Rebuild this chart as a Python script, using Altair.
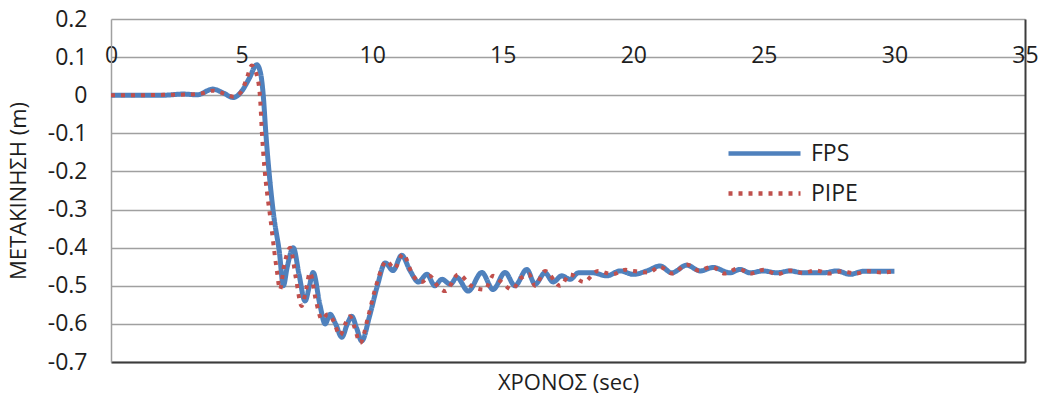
import altair as alt
import pandas as pd

# Displacement time histories (sec, m)
t_fps = [0, 1, 2, 2.76, 3.3, 3.9, 4.3, 4.68, 5.0, 5.3, 5.58, 5.72, 5.83, 5.93, 6.22,
         6.45, 6.6, 6.75, 6.98, 7.2, 7.43, 7.6, 7.74, 8.0, 8.2, 8.39, 8.6, 8.84, 9.05,
         9.22, 9.4, 9.6, 9.9, 10.2, 10.5, 10.8, 11.13, 11.45, 11.77, 12.1, 12.4, 12.67,
         13.0, 13.24, 13.68, 14.2, 14.63, 15.09, 15.47, 15.92, 16.24, 16.62, 16.93, 17.26,
         17.58, 17.9, 18.46, 18.98, 19.5, 20.0, 20.52, 21.03, 21.47, 22.05, 22.56, 23.06,
         23.7, 24.09, 24.47, 24.97, 25.5, 26.0, 26.5, 27.27, 27.8, 28.3, 28.8, 29.33, 30.0]
v_fps = [0, 0, 0, 0.003, 0.001, 0.016, 0.006, -0.006, 0.01, 0.045, 0.08, 0.06, 0.0, -0.1,
         -0.31, -0.413, -0.50, -0.45, -0.40, -0.47, -0.54, -0.50, -0.465, -0.55, -0.60,
         -0.575, -0.60, -0.635, -0.60, -0.58, -0.61, -0.645, -0.58, -0.50, -0.44, -0.46,
         -0.42, -0.46, -0.49, -0.47, -0.50, -0.483, -0.496, -0.478, -0.514, -0.465, -0.51,
         -0.465, -0.50, -0.457, -0.496, -0.466, -0.49, -0.474, -0.483, -0.466, -0.466,
         -0.474, -0.461, -0.47, -0.461, -0.448, -0.466, -0.446, -0.461, -0.452, -0.466,
         -0.457, -0.466, -0.461, -0.466, -0.461, -0.466, -0.466, -0.461, -0.47, -0.462,
         -0.462, -0.462]

t_pipe = [0, 1, 2, 3, 3.5, 3.9, 4.3, 4.7, 5.0, 5.2, 5.39, 5.55, 5.7, 5.78, 6.15, 6.35,
          6.47, 6.62, 6.86, 7.08, 7.3, 7.47, 7.62, 7.85, 8.07, 8.3, 8.5, 8.77, 8.97, 9.15,
          9.33, 9.54, 9.85, 10.15, 10.56, 10.85, 11.18, 11.57, 11.9, 12.2, 12.5, 12.8, 13.3,
          13.8, 14.32, 14.63, 14.95, 15.35, 15.7, 16.0, 16.24, 16.62, 17.2, 17.58, 18.1,
          18.65, 19.2, 19.7, 20.0, 20.6, 21.0, 21.5, 22.05, 22.5, 23.0, 23.5, 24.0, 24.5,
          25.0, 25.5, 26.0, 26.5, 27.0, 27.5, 28.0, 28.5, 29.0, 29.5, 30.0]
v_pipe = [0, 0, 0.001, 0.002, 0.005, 0.012, 0.005, -0.004, 0.01, 0.045, 0.078, 0.06, 0.0,
          -0.1, -0.35, -0.46, -0.51, -0.45, -0.40, -0.48, -0.553, -0.51, -0.465, -0.54,
          -0.588, -0.575, -0.59, -0.63, -0.60, -0.58, -0.61, -0.65, -0.58, -0.50, -0.435,
          -0.455, -0.417, -0.474, -0.49, -0.474, -0.50, -0.514, -0.47, -0.50, -0.51, -0.474,
          -0.49, -0.51, -0.48, -0.47, -0.50, -0.461, -0.50, -0.47, -0.49, -0.461, -0.47,
          -0.458, -0.461, -0.465, -0.45, -0.468, -0.444, -0.46, -0.45, -0.468, -0.455,
          -0.468, -0.458, -0.47, -0.46, -0.466, -0.46, -0.468, -0.462, -0.468, -0.462,
          -0.465, -0.462]

series_names = ["FPS", "PIPE"]
series_colors = ["#4f81bd", "#c0504d"]
series_dashes = [[1, 0], [4, 6]]

x_ticks = [0, 5, 10, 15, 20, 25, 30, 35]
y_ticks = [0.2, 0.1, 0, -0.1, -0.2, -0.3, -0.4, -0.5, -0.6, -0.7]

df = pd.concat([
    pd.DataFrame({"t": t_fps, "v": v_fps, "series": "FPS"}),
    pd.DataFrame({"t": t_pipe, "v": v_pipe, "series": "PIPE"}),
], ignore_index=True)

FONT = "Open Sans"
TEXT = "#1e1e1e"
GRID = "#a0a0a0"
FRAME = "#3c3c3c"
TICK_SIZE = 23
TITLE_SIZE = 22

x_scale = alt.Scale(domain=[0, 35], nice=False, zero=False)
y_scale = alt.Scale(domain=[-0.7, 0.2], nice=False, zero=False)

legend = alt.Legend(
    title=None, orient="none", legendX=642, legendY=123, direction="vertical",
    symbolType="M-4,0H4", symbolSize=324, symbolStrokeWidth=4.5,
    labelFont=FONT, labelFontSize=TICK_SIZE, labelColor=TEXT, labelOffset=35,
    rowPadding=16, padding=0,
)
color = alt.Color("series:N", scale=alt.Scale(domain=series_names, range=series_colors),
                  legend=legend)
dash = alt.StrokeDash("series:N", scale=alt.Scale(domain=series_names, range=series_dashes),
                      legend=legend)

base = alt.Chart(df)

# Solid FPS trace, with the tick labels along the 0.1 gridline and the y axis on the left
fps = base.transform_filter(alt.datum.series == "FPS").mark_line(
    strokeWidth=5, interpolate="monotone"
).encode(
    x=alt.X("t:Q", scale=x_scale, axis=alt.Axis(
        orient="top", values=x_ticks, offset=-38, domain=False, ticks=False, grid=False,
        labelFlush=False, labelBaseline="middle", labelPadding=2, labelFont=FONT,
        labelFontSize=TICK_SIZE, labelColor=TEXT, title=None)),
    y=alt.Y("v:Q", scale=y_scale, axis=alt.Axis(
        orient="left", values=y_ticks, grid=True, gridColor=GRID, gridWidth=1.5,
        domain=True, domainColor=GRID, domainWidth=1.5, ticks=False, labelPadding=24,
        labelExpr="toString(round(datum.value * 10) / 10)",
        labelFont=FONT, labelFontSize=TICK_SIZE, labelColor=TEXT,
        title="ΜΕΤΑΚΙΝΗΣΗ (m)", titleX=-93, titleY=171.5, titleAngle=-90,
        titleAlign="center", titleBaseline="middle", titleFont=FONT,
        titleFontSize=TITLE_SIZE, titleFontWeight="normal", titleColor=TEXT)),
    color=color,
    strokeDash=dash,
)

# Dotted PIPE trace, carrying the dark bottom and right frame lines
pipe = base.transform_filter(alt.datum.series == "PIPE").mark_line(
    strokeWidth=4, interpolate="monotone", strokeCap="butt"
).encode(
    x=alt.X("t:Q", scale=x_scale, axis=alt.Axis(
        orient="bottom", domain=True, domainColor=FRAME, domainWidth=2, labels=False,
        ticks=False, grid=False, title="ΧΡΟΝΟΣ (sec)", titleY=20, titleBaseline="middle",
        titleFont=FONT, titleFontSize=TITLE_SIZE, titleFontWeight="normal",
        titleColor=TEXT)),
    y=alt.Y("v:Q", scale=y_scale, axis=alt.Axis(
        orient="right", domain=True, domainColor=FRAME, domainWidth=2, labels=False,
        ticks=False, grid=False, title=None)),
    color=color,
    strokeDash=dash,
)

chart = alt.layer(fps, pipe).resolve_axis(
    x="independent", y="independent"
).properties(
    width=914, height=343,
    autosize=alt.AutoSizeParams(type="none"),
    padding={"left": 111, "top": 19, "right": 14, "bottom": 36},
    background="white",
).configure_view(stroke=None)

chart.save("out.html", embed_options={"renderer": "svg", "actions": False})
